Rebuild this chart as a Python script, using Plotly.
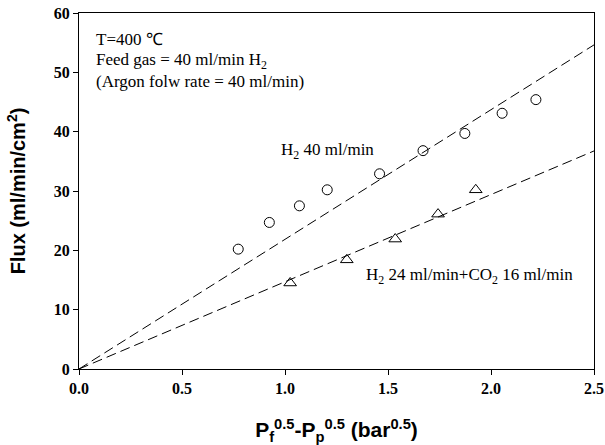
import plotly.graph_objects as go

# Data
h2_x = [0.773, 0.924, 1.07, 1.205, 1.459, 1.67, 1.873, 2.054, 2.218]
h2_y = [20.2, 24.7, 27.5, 30.2, 32.9, 36.8, 39.7, 43.1, 45.4]
mix_x = [1.025, 1.30, 1.535, 1.743, 1.926]
mix_y = [14.5, 18.4, 21.9, 26.1, 30.2]
fit_x = [0.0, 2.5]
h2_slope = 21.85
mix_slope = 14.7

x_ticks = [0.0, 0.5, 1.0, 1.5, 2.0, 2.5]
x_ticklabels = ["0.0", "0.5", "1.0", "1.5", "2.0", "2.5"]
y_ticks = [0, 10, 20, 30, 40, 50, 60]

serif = "Liberation Serif, Times New Roman, serif"
sans = "Liberation Sans, Arial, sans-serif"

fig = go.Figure()
fig.add_trace(go.Scatter(x=fit_x, y=[h2_slope * v for v in fit_x], mode="lines",
                         line=dict(color="black", width=1, dash="10px,5px"),
                         showlegend=False, hoverinfo="skip"))
fig.add_trace(go.Scatter(x=fit_x, y=[mix_slope * v for v in fit_x], mode="lines",
                         line=dict(color="black", width=1, dash="10px,5px"),
                         showlegend=False, hoverinfo="skip"))
fig.add_trace(go.Scatter(x=h2_x, y=h2_y, mode="markers",
                         marker=dict(symbol="circle-open", size=10, color="black",
                                     line=dict(width=1, color="black")),
                         showlegend=False))
fig.add_trace(go.Scatter(x=mix_x, y=mix_y, mode="markers",
                         marker=dict(symbol="triangle-up-open", size=11, color="black",
                                     line=dict(width=1, color="black")),
                         showlegend=False))

ann_font = dict(family=serif, size=17, color="black")
fig.add_annotation(x=0.073, y=55.5, xref="x", yref="y", text="T=400 ℃",
                   showarrow=False, xanchor="left", yanchor="middle", font=ann_font)
fig.add_annotation(x=0.073, y=51.9, xref="x", yref="y", text="Feed gas = 40 ml/min H<sub>2</sub>",
                   showarrow=False, xanchor="left", yanchor="middle", font=ann_font)
fig.add_annotation(x=0.073, y=48.4, xref="x", yref="y", text="(Argon folw rate = 40 ml/min)",
                   showarrow=False, xanchor="left", yanchor="middle", font=ann_font)
fig.add_annotation(x=0.97, y=36.8, xref="x", yref="y", text="H<sub>2</sub> 40 ml/min",
                   showarrow=False, xanchor="left", yanchor="middle", font=ann_font)
fig.add_annotation(x=1.385, y=15.7, xref="x", yref="y",
                   text="H<sub>2</sub> 24 ml/min+CO<sub>2</sub> 16 ml/min",
                   showarrow=False, xanchor="left", yanchor="middle", font=ann_font)

fig.update_xaxes(range=[0, 2.5], tickvals=x_ticks, ticktext=x_ticklabels,
                 ticks="outside", ticklen=5, tickcolor="black",
                 showline=True, linecolor="black", linewidth=1, mirror=True,
                 showgrid=False, zeroline=False,
                 tickfont=dict(family=serif, size=16, color="black", weight="bold"),
                 title=dict(text="P<sub>f</sub><sup>0.5</sup>-P<sub>p</sub><sup>0.5</sup> (bar<sup>0.5</sup>)",
                            font=dict(family=sans, size=21, color="black", weight="bold"),
                            standoff=26))
fig.update_yaxes(range=[0, 60], tickvals=y_ticks,
                 ticks="outside", ticklen=5, tickcolor="black",
                 showline=True, linecolor="black", linewidth=1, mirror=True,
                 showgrid=False, zeroline=False,
                 tickfont=dict(family=serif, size=16, color="black", weight="bold"),
                 title=dict(text="Flux (ml/min/cm<sup>2</sup>)",
                            font=dict(family=sans, size=20, color="black", weight="bold"),
                            standoff=22))

fig.update_layout(width=605, height=445, margin=dict(l=79, r=11, t=13, b=76, autoexpand=False),
                  plot_bgcolor="white", paper_bgcolor="white")

fig.write_html("out.html")
